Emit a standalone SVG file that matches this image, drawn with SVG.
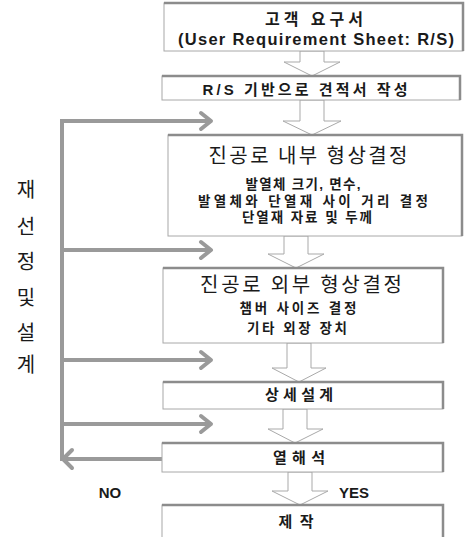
<svg xmlns="http://www.w3.org/2000/svg" width="466" height="537" viewBox="0 0 466 537">
<defs>
<style>
.box{fill:#fff;stroke:#a8a8a8;stroke-width:1}
.edge{fill:none;stroke:#8c8c8c;stroke-width:2.5}
.ha{fill:#fff;stroke:#a9a9a9;stroke-width:1}
.fb{fill:none;stroke:#9a9a9a;stroke-width:4;stroke-linejoin:miter}
.hd{fill:none;stroke:#9a9a9a;stroke-width:4;stroke-linecap:round;stroke-linejoin:round}
.b{font-family:"Liberation Sans","Noto Sans CJK KR",sans-serif;font-weight:bold;fill:#1a1a1a;text-anchor:middle}
.k{font-family:"Noto Sans CJK KR",sans-serif;fill:#1a1a1a;text-anchor:middle}
</style>
</defs>
<rect width="466" height="537" fill="#fff"/>
<g id="connectors">
<polygon class="ha" points="300,51 324,51 324,62 340,62 312,76 284,62 300,62"/>
<polygon class="ha" points="300,100 324,100 324,121 341,121 312,135 283,121 300,121"/>
<polygon class="ha" points="284,236 308,236 308,254 324,254 296,268 268,254 284,254"/>
<polygon class="ha" points="287,343 311,343 311,368 326,368 299,382 272,368 287,368"/>
<polygon class="ha" points="283,409 307,409 307,429 323,429 295,443 268,429 283,429"/>
<polygon class="ha" points="288,472 312,472 312,491 328,491 300,505 272,491 288,491"/>
<polyline class="fb" points="210,121 62,121 62,459 162,459"/>
<line class="fb" x1="62" y1="250" x2="210" y2="250"/>
<line class="fb" x1="62" y1="360" x2="210" y2="360"/>
<line class="fb" x1="62" y1="424" x2="210" y2="424"/>
<polyline class="hd" points="201,113 211,121 201,129"/>
<polyline class="hd" points="201,242 211,250 201,258"/>
<polyline class="hd" points="201,352 211,360 201,368"/>
<polyline class="hd" points="201,416 211,424 201,432"/>
<polyline class="hd" points="72,450 63,459 72,468"/>
</g>
<g id="n1">
<rect class="box" x="164" y="3" width="299" height="48"/>
<polyline class="edge" points="164,3 463,3 463,51"/>
<text class="b" x="314" y="25" font-size="16" textLength="98" lengthAdjust="spacing">고객 요구서</text>
<text class="b" x="316" y="45" font-size="16.5" textLength="276" lengthAdjust="spacing">(User Requirement Sheet: R/S)</text>
</g>
<g id="n2">
<rect class="box" x="162" y="76" width="298" height="24"/>
<polyline class="edge" points="162,76 460,76 460,100"/>
<text class="b" x="305" y="95" font-size="15" textLength="205" lengthAdjust="spacing">R/S 기반으로 견적서 작성</text>
</g>
<g id="n3">
<rect class="box" x="168" y="135" width="294" height="101"/>
<polyline class="edge" points="168,135 462,135 462,236"/>
<text class="k" x="308" y="163" font-size="20" textLength="199" lengthAdjust="spacing">진공로 내부 형상결정</text>
<text class="b" x="303" y="189" font-size="13.5" textLength="115" lengthAdjust="spacing">발열체 크기, 면수,</text>
<text class="b" x="313" y="206" font-size="13.5" textLength="230" lengthAdjust="spacing">발열체와 단열재 사이 거리 결정</text>
<text class="b" x="307" y="222" font-size="13.5" textLength="130" lengthAdjust="spacing">단열재 자료 및 두께</text>
</g>
<g id="n4">
<rect class="box" x="163" y="268" width="280" height="75"/>
<polyline class="edge" points="163,268 443,268 443,343"/>
<text class="k" x="301" y="292" font-size="20" textLength="202" lengthAdjust="spacing">진공로 외부 형상결정</text>
<text class="b" x="298" y="313" font-size="13.5" textLength="117" lengthAdjust="spacing">챔버 사이즈 결정</text>
<text class="b" x="297" y="333" font-size="13.5" textLength="100" lengthAdjust="spacing">기타 외장 장치</text>
</g>
<g id="n5">
<rect class="box" x="163" y="382" width="280" height="27"/>
<polyline class="edge" points="163,382 443,382 443,409"/>
<text class="b" x="299" y="400" font-size="15" textLength="68" lengthAdjust="spacing">상세설계</text>
</g>
<g id="n6">
<rect class="box" x="162" y="443" width="281" height="29"/>
<polyline class="edge" points="162,443 443,443 443,472"/>
<text class="b" x="299" y="463" font-size="15" textLength="52" lengthAdjust="spacing">열해석</text>
</g>
<g id="n7">
<rect class="box" x="162" y="505" width="281" height="40"/>
<polyline class="edge" points="162,505 443,505 443,540"/>
<text class="b" x="296" y="527" font-size="15" textLength="35" lengthAdjust="spacing">제 작</text>
</g>
<g id="labels">
<text class="b" x="110" y="498" font-size="15">NO</text>
<text class="b" x="354" y="498" font-size="15">YES</text>
<g class="k" font-size="20">
<text x="26" y="197">재</text>
<text x="26" y="234">선</text>
<text x="26" y="269">정</text>
<text x="26" y="305">및</text>
<text x="26" y="340">설</text>
<text x="26" y="372">계</text>
</g>
</g>
</svg>
